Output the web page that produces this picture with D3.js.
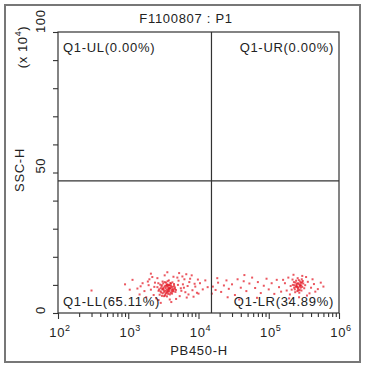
<!DOCTYPE html>
<html>
<head>
<meta charset="utf-8">
<script src="https://cdn.jsdelivr.net/npm/d3@7"></script>
<style>
  body { margin: 0; background: #fff; }
  text { font-family: "Liberation Sans", Arial, sans-serif; fill: #222; }
</style>
</head>
<body>
<svg id="chart" width="370" height="372"></svg>
<script>
// plot settings / labels
const title = "F1100807 : P1";
const xLabel = "PB450-H";
const yLabel = "SSC-H";
const xDecades = [2, 3, 4, 5, 6];
const yMajorTicks = [0, 50, 100];
const yMinorTicks = [10, 20, 30, 40, 60, 70, 80, 90];
const gate = { x: 15300, y: 47 };
const quadLabels = ["Q1-UL(0.00%)", "Q1-UR(0.00%)", "Q1-LL(65.11%)", "Q1-LR(34.89%)"];

// events, [PB450-H, SSC-H (x10^4)]
const eventsLL = [
  [3200,8.1],[3500,7.6],[3800,8.4],[4100,9.0],[2900,8.8],[3300,9.5],[3600,10.2],[4000,7.2],[4400,8.0],[3100,7.0],
  [3700,6.8],[2700,7.9],[3400,8.9],[3900,9.8],[4300,9.3],[3000,9.9],[3550,8.3],[4200,6.9],[2800,6.5],[3650,7.4],
  [3350,6.2],[4600,8.6],[3050,8.4],[3750,9.1],[3450,10.8],[4050,10.4],[2600,9.2],[3250,7.5],[3850,7.8],[4500,9.7],
  [3150,10.5],[3950,8.7],[2950,7.3],[3580,9.4],[4150,8.2],[3380,8.0],[3720,8.6],[2850,10.1],[4700,7.5],[3480,7.1],
  [3820,10.0],[3180,9.0],[4250,10.9],[3020,6.1],[3630,11.3],[4380,7.7],[2750,8.4],[3920,6.6],[3300,11.0],[4080,9.6],
  [3560,5.9],[2980,9.4],[4480,10.3],[3420,9.7],[3880,8.9],[3120,8.6],[4620,9.1],[3680,7.9],[2880,7.7],[4180,7.6],
  [3380,6.7],[3780,11.6],[3080,11.2],[4330,8.5],[3530,10.0],[2680,10.6],[3980,10.7],[4780,8.2],[3230,6.0],[3700,9.8],
  [1500,9.5],[1700,7.8],[1900,11.2],[2100,8.3],[2300,6.4],[2000,12.0],[1800,5.6],[2400,10.8],[2200,12.8],[1600,10.6],
  [1350,8.7],[2500,5.2],[5200,11.5],[5600,8.8],[6000,10.2],[6500,7.4],[7000,9.6],[7600,12.2],[8200,8.1],[5400,6.0],
  [5900,13.0],[6800,5.5],[7400,11.0],[8800,10.4],[9500,7.2],[5000,12.6],[6200,9.0],[7200,6.6],[8000,13.4],[9000,9.4],
  [2600,12.4],[4400,12.9],[3300,13.4],[3900,4.8],[2700,4.6],[4800,5.0],[5100,10.0],[5700,7.9],[6300,12.0],[2350,9.3],
  [1950,9.9],[1450,6.6],[1150,11.8],[1050,8.3],[10500,10.6],[11500,8.4],[12500,11.6],[13500,9.2],[10000,6.9],[700,5.1],
  [300,8.0],[900,10.2],[5300,14.2],[6700,13.8],[3600,14.5],[2100,14.0],[8500,5.8],[9800,11.9],[4100,3.9],[2900,3.6]
];
const eventsLR = [
  [16000,9.4],[17500,8.2],[19000,10.8],[21000,7.5],[23000,9.8],[25000,11.6],[27000,8.6],[30000,10.2],[33000,6.4],[36000,12.0],
  [40000,9.0],[44000,11.3],[48000,7.8],[53000,10.5],[58000,12.6],[64000,8.9],[70000,11.0],[77000,7.1],[85000,9.7],[93000,12.2],
  [100000,8.4],[110000,10.6],[120000,6.8],[130000,11.8],[140000,9.2],[150000,7.6],[18500,12.4],[26000,5.6],[45000,13.5],[68000,5.4],
  [15500,6.9],[38000,4.8],
  [250000,9.5],[270000,10.2],[230000,9.0],[290000,9.8],[260000,8.6],[240000,10.8],[280000,11.2],[300000,9.3],[220000,10.0],[265000,9.1],
  [275000,8.2],[245000,11.5],[310000,10.5],[255000,7.8],[285000,9.0],[235000,8.4],[295000,12.0],[205000,9.6],[320000,8.8],[262000,10.6],
  [278000,9.6],[248000,9.9],[268000,11.7],[228000,11.0],[292000,8.0],[212000,8.3],[258000,12.4],[305000,11.4],[238000,7.4],[272000,7.2],
  [282000,10.0],[252000,10.4],[242000,9.3],[298000,10.9],[218000,11.9],[330000,9.9],[264000,8.0],[286000,10.7],[232000,9.9],[256000,9.2],
  [170000,10.6],[180000,8.0],[190000,12.6],[360000,11.1],[400000,9.0],[440000,10.3],[500000,8.5],[380000,7.0],[340000,12.8],[420000,12.0],
  [160000,11.8],[200000,6.6],[350000,6.2],[460000,7.6],[550000,10.8],[225000,13.6],[300000,13.2],[270000,5.6],[195000,5.2],[600000,9.4]
];

const svg = d3.select("#chart");
const plot = { left: 58, top: 32, right: 339, bottom: 313 };

const x = d3.scaleLog().domain([1e2, 1e6]).range([plot.left, plot.right]);
const y = d3.scaleLinear().domain([0, 100]).range([plot.bottom, plot.top]);

// outer frame
svg.append("rect")
  .attr("x", 5).attr("y", 5).attr("width", 355).attr("height", 357)
  .attr("fill", "#fff").attr("stroke", "#777").attr("stroke-width", 2);

svg.append("text")
  .attr("x", 186).attr("y", 23)
  .attr("text-anchor", "middle")
  .style("font-size", "13px").style("letter-spacing", "0.7px")
  .text(title);

// events
const dots = svg.append("g");
dots.selectAll("rect")
  .data(eventsLL.concat(eventsLR))
  .join("rect")
  .attr("x", d => x(d[0]) - 1)
  .attr("y", d => y(d[1]) - 1)
  .attr("width", 2).attr("height", 2)
  .attr("fill", "#e3101c")
  .attr("opacity", 0.7);

// plot box
svg.append("rect")
  .attr("x", plot.left).attr("y", plot.top)
  .attr("width", plot.right - plot.left).attr("height", plot.bottom - plot.top)
  .attr("fill", "none").attr("stroke", "#333").attr("stroke-width", 1.2);

// quadrant gate
svg.append("line")
  .attr("x1", x(gate.x)).attr("x2", x(gate.x))
  .attr("y1", plot.top).attr("y2", plot.bottom)
  .attr("stroke", "#333").attr("stroke-width", 1.2);
svg.append("line")
  .attr("x1", plot.left).attr("x2", plot.right)
  .attr("y1", y(gate.y)).attr("y2", y(gate.y))
  .attr("stroke", "#333").attr("stroke-width", 1.2);

// x axis
const xMajor = xDecades.map(p => Math.pow(10, p));
const xMinor = [];
xDecades.slice(0, -1).forEach(p => {
  for (let k = 2; k <= 9; k++) xMinor.push(k * Math.pow(10, p));
});

const axisStyle = g => {
  g.select(".domain").remove();
  g.selectAll("line").attr("stroke", "#333").attr("stroke-width", 1.1);
  g.selectAll("text").remove();
};

svg.append("g")
  .attr("transform", `translate(0,${plot.bottom})`)
  .call(d3.axisBottom(x).tickValues(xMinor).tickSize(4).tickFormat(""))
  .call(axisStyle);
svg.append("g")
  .attr("transform", `translate(0,${plot.bottom})`)
  .call(d3.axisBottom(x).tickValues(xMajor).tickSize(6).tickFormat(""))
  .call(axisStyle);

const xt = svg.append("g").selectAll("text")
  .data(xDecades)
  .join("text")
  .attr("x", p => x(Math.pow(10, p)) + 2)
  .attr("y", 337)
  .attr("text-anchor", "middle")
  .style("font-size", "13px").style("letter-spacing", "0.6px");
xt.append("tspan").text("10");
xt.append("tspan").attr("dy", -6).style("font-size", "9px").text(p => p);

svg.append("text")
  .attr("x", 199).attr("y", 355)
  .attr("text-anchor", "middle")
  .style("font-size", "13px").style("letter-spacing", "0.7px")
  .text(xLabel);

// y axis
svg.append("g")
  .attr("transform", `translate(${plot.left},0)`)
  .call(d3.axisLeft(y).tickValues(yMinorTicks.concat(yMajorTicks)).tickSize(5).tickFormat(""))
  .call(axisStyle);

svg.append("g").selectAll("text")
  .data(yMajorTicks)
  .join("text")
  .attr("transform", d => `translate(45,${y(d) + 1}) rotate(-90)`)
  .attr("text-anchor", "start")
  .style("font-size", "13px").style("letter-spacing", "0.6px")
  .text(d => d);

svg.append("text")
  .attr("transform", `translate(24,170) rotate(-90)`)
  .attr("text-anchor", "middle")
  .style("font-size", "13px").style("letter-spacing", "0.7px")
  .text(yLabel);

const unit = svg.append("text")
  .attr("transform", `translate(27,47) rotate(-90)`)
  .attr("text-anchor", "middle")
  .style("font-size", "13px").style("letter-spacing", "0.6px");
unit.append("tspan").text("(x 10");
unit.append("tspan").attr("dy", -6).style("font-size", "9px").text("4");
unit.append("tspan").attr("dy", 6).text(")");

// quadrant labels
const qPos = [
  { x: 63, y: 52, anchor: "start" },
  { x: 334, y: 52, anchor: "end" },
  { x: 63, y: 306, anchor: "start" },
  { x: 334, y: 306, anchor: "end" }
];
svg.append("g").selectAll("text")
  .data(quadLabels)
  .join("text")
  .attr("x", (d, i) => qPos[i].x)
  .attr("y", (d, i) => qPos[i].y)
  .attr("text-anchor", (d, i) => qPos[i].anchor)
  .style("font-size", "13px").style("letter-spacing", "0.7px")
  .text(d => d);
</script>
</body>
</html>
